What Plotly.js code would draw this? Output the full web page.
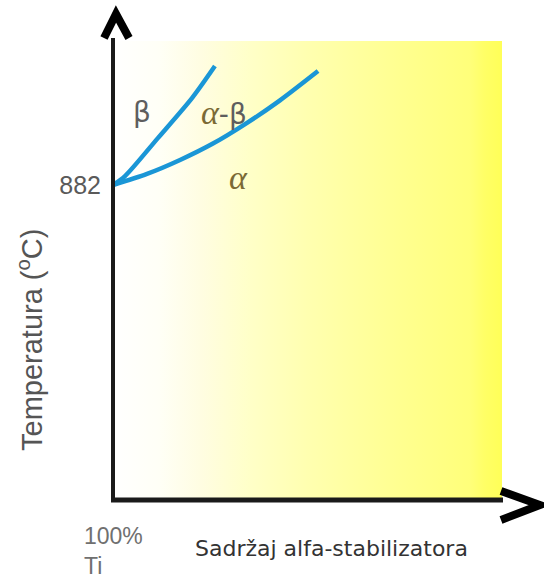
<!DOCTYPE html>
<html>
<head>
<meta charset="utf-8">
<script src="https://cdn.plot.ly/plotly-3.0.1.min.js"></script>
<style>html,body{margin:0;padding:0;background:#fff;}#chart{width:544px;height:578px;}</style>
</head>
<body>
<div id="chart"></div>
<script>
// Phase boundaries (x: alpha-stabiliser content, arbitrary 0-100; T in °C)
const xBeta  = [0, 3.06, 11.5, 20.2, 26.0];
const tBeta  = [882, 907, 1014, 1126, 1215];
const xAlpha = [0, 8.67, 17.1, 25.5, 34.2, 42.6, 52.3];
const tAlpha = [882, 913, 952, 998, 1056, 1119, 1201];

const yTickVals = [882];
const yTickText = ['882'];

const A = '<span style="font-family:Liberation Serif;font-size:34px;color:#7b6a35"><i>α</i></span>';
const regionLabels = ['β', A + '-β', A];
const regionX = [7.4, 28.3, 32.0];
const regionT = [1086, 1086, 902];

const xTitle = 'Sadržaj alfa-stabilizatora';
const yTitle = 'Temperatura (<sup>o</sup>C)';
const originLabel = '100%<br>Ti';

const gradStops = [[0,'#ffffff'],[0.12,'#fffff6'],[0.224,'#fffde2'],[0.352,'#ffffc8'],[0.5,'#ffffb0'],[0.738,'#ffff90'],[0.918,'#ffff7a'],[0.955,'#ffff66'],[1,'#ffff58']];
const svg = "<svg xmlns='http://www.w3.org/2000/svg' width='100' height='100' viewBox='0 0 100 100' preserveAspectRatio='none'><defs><linearGradient id='g' x1='0' x2='1' y1='0' y2='0'>" +
  gradStops.map(s => "<stop offset='" + s[0] + "' stop-color='" + s[1] + "'/>").join('') +
  "</linearGradient></defs><rect width='100' height='100' fill='url(#g)'/></svg>";
const gradSrc = 'data:image/svg+xml;charset=utf-8,' + encodeURIComponent(svg);

const lineColor = '#1a96d6';
const traces = [
  {x: xBeta, y: tBeta, mode: 'lines', line: {color: lineColor, width: 4.5, shape: 'spline', smoothing: 0.8}, hoverinfo: 'skip'},
  {x: xAlpha, y: tAlpha, mode: 'lines', line: {color: lineColor, width: 4.5, shape: 'spline', smoothing: 0.8}, hoverinfo: 'skip'}
];

const W = 392, H = 460; // plot area px
const px = v => v / W, py = v => v / H;

const annotations = regionLabels.map((t, i) => ({
  x: regionX[i], y: regionT[i], xref: 'x', yref: 'y', text: t, showarrow: false,
  xanchor: 'center', yanchor: 'middle',
  font: {family: 'DejaVu Sans, sans-serif', size: 28, color: '#5e5e5e'}
}));
annotations.push({xref: 'paper', yref: 'paper', x: px(30 - 113), y: py(500 - 340), xanchor: 'center', yanchor: 'middle',
  text: yTitle, textangle: -90,
  showarrow: false, font: {family: 'Liberation Sans, Arial, sans-serif', size: 29, color: '#555'}});
annotations.push({xref: 'paper', yref: 'paper', x: px(331 - 113), y: py(500 - 548), xanchor: 'center', yanchor: 'middle',
  text: xTitle, showarrow: false, font: {family: 'DejaVu Sans, sans-serif', size: 22, color: '#333'}});
annotations.push({xref: 'paper', yref: 'paper', x: px(82 - 113), y: py(500 - 551), xanchor: 'left', yanchor: 'middle', align: 'left',
  text: originLabel, showarrow: false, font: {family: 'Liberation Sans, Arial, sans-serif', size: 23, color: '#707070'}});

const shapes = [
  {type: 'line', xref: 'paper', yref: 'paper', x0: 0, x1: 0, y0: py(-2), y1: py(462), line: {color: '#1a1a1a', width: 4}},
  {type: 'line', xref: 'paper', yref: 'paper', x0: px(-2), x1: px(390), y0: 0, y1: 0, line: {color: '#1a1a1a', width: 5}},
  {type: 'path', xref: 'paper', yref: 'paper',
   path: 'M' + px(-9) + ',' + py(462) + ' L' + px(3) + ',' + py(486) + ' L' + px(16) + ',' + py(462),
   line: {color: '#000', width: 8}},
  {type: 'path', xref: 'paper', yref: 'paper',
   path: 'M' + px(388) + ',' + py(9) + ' L' + px(427) + ',' + py(-5) + ' L' + px(388) + ',' + py(-20),
   line: {color: '#000', width: 8}}
];

const layout = {
  width: 544, height: 578,
  margin: {l: 113, r: 39, t: 40, b: 78, pad: 0},
  paper_bgcolor: '#ffffff', plot_bgcolor: 'rgba(0,0,0,0)',
  showlegend: false,
  xaxis: {range: [0, 100], showgrid: false, zeroline: false, showline: false, showticklabels: false, ticks: '', fixedrange: true},
  yaxis: {range: [0, 1288], showgrid: false, zeroline: false, showline: false, ticks: '',
          tickvals: yTickVals, ticktext: yTickText, ticklabelstandoff: 11,
          tickfont: {family: 'Liberation Sans, Arial, sans-serif', size: 25, color: '#5a5a5a'}, fixedrange: true},
  images: [{source: gradSrc, xref: 'paper', yref: 'paper', x: 0, y: py(459), sizex: px(389), sizey: py(459),
            xanchor: 'left', yanchor: 'top', sizing: 'stretch', layer: 'below'}],
  annotations: annotations,
  shapes: shapes
};

Plotly.newPlot('chart', traces, layout, {displayModeBar: false, staticPlot: true});
</script>
</body>
</html>
